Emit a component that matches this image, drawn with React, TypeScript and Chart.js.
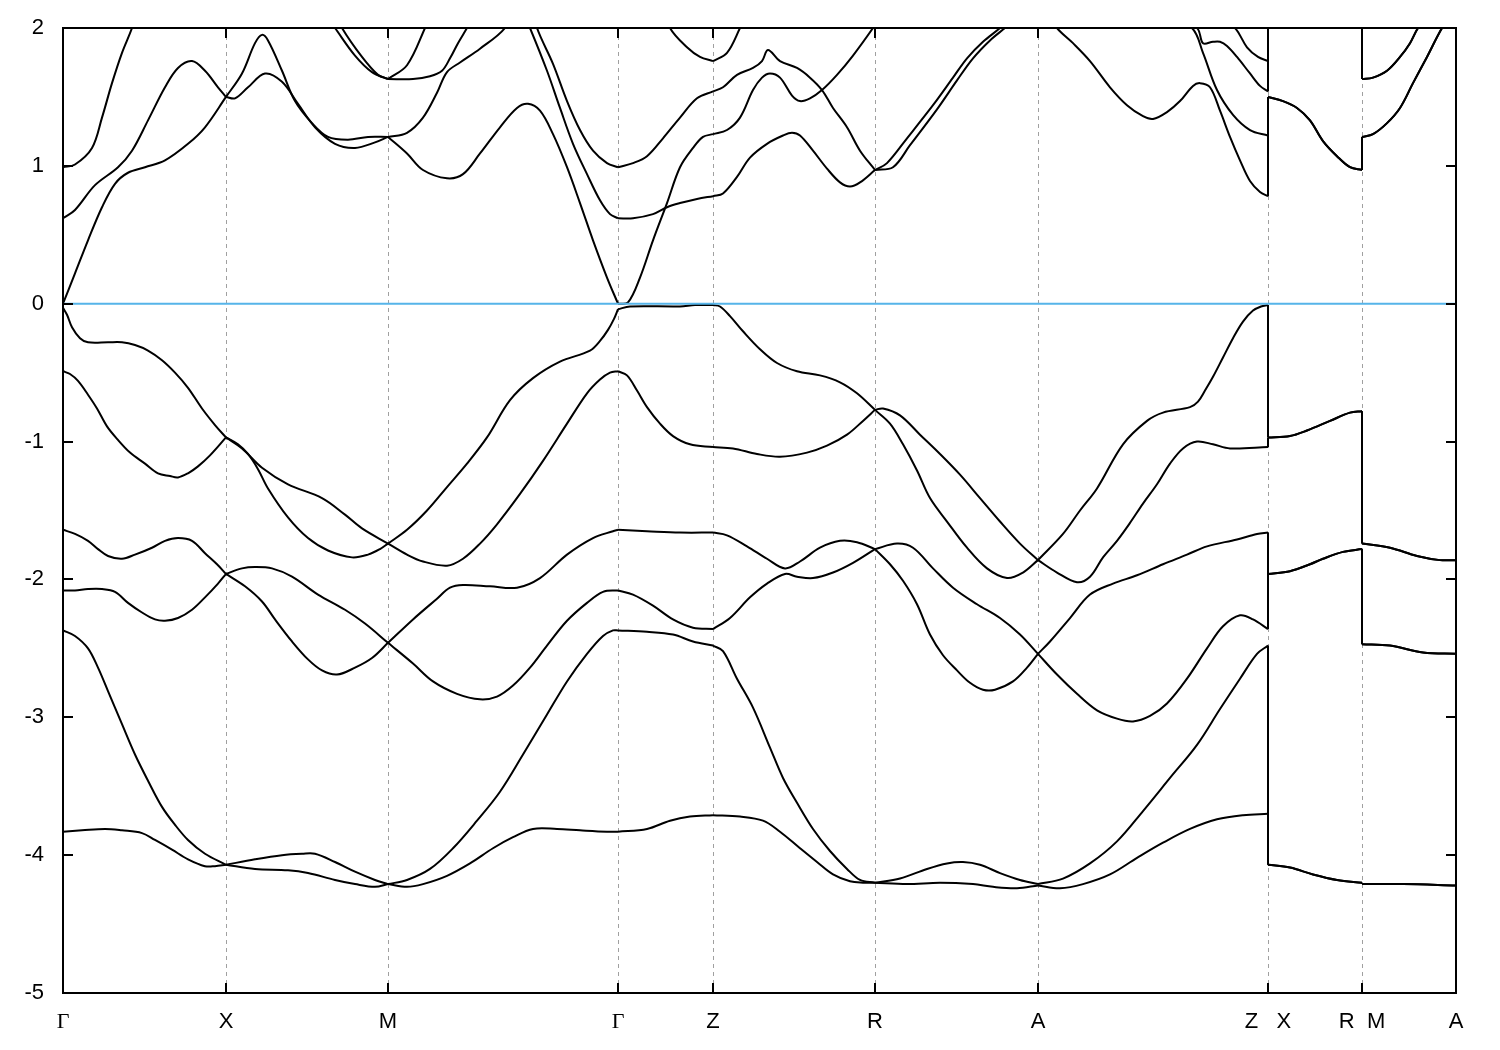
import React, { useEffect, useRef } from "react";
import { Chart, registerables } from "chart.js";

Chart.register(...registerables);

type Pt = [number, number];

// k-path positions (arb. units) of the high-symmetry points and their labels
const kTicks = [0, 163, 325, 555, 650, 812, 975, 1205, 1299, 1393];
const kLabels = ["Γ", "X", "M", "Γ", "Z", "R", "A", "Z   X", "R  M", "A"];
const energyMin = -5;
const energyMax = 2;
const fermiEnergy = 0;

// valence bands [k, E (eV)]
const bandV1: Pt[] = [
  [0, -0.03], [4, -0.08], [9, -0.17], [17, -0.25], [25, -0.28], [45, -0.28], [59, -0.28], [72, -0.3], [85, -0.34], [99, -0.41], [112, -0.5], [125, -0.61], [139, -0.76], [152, -0.88], [163, -0.97],
  [179, -1.05], [199, -1.19], [225, -1.31], [259, -1.41], [282, -1.53], [299, -1.63], [325, -1.74],
  [344, -1.64], [364, -1.5], [384, -1.33], [404, -1.16], [424, -0.97], [447, -0.7], [470, -0.54], [497, -0.42], [527, -0.34], [537, -0.27], [545, -0.19], [551, -0.11], [555, -0.04],
  [567, -0.02], [617, -0.02], [632, -0.01], [650, -0.01],
  [657, -0.02], [667, -0.09], [680, -0.2], [697, -0.33], [714, -0.43], [734, -0.49], [757, -0.52], [777, -0.57], [794, -0.65], [812, -0.77],
  [820, -0.76], [837, -0.81], [857, -0.95], [877, -1.09], [897, -1.24], [917, -1.41], [937, -1.58], [957, -1.74], [975, -1.86],
  [1000, -1.67], [1017, -1.5], [1034, -1.34], [1060, -1.02], [1084, -0.85], [1100, -0.79], [1127, -0.75], [1135, -0.71], [1142, -0.63], [1150, -0.53], [1160, -0.39], [1170, -0.25], [1180, -0.13], [1190, -0.05], [1198, -0.02], [1205, -0.01],
  [1205, -0.97], [1227, -0.96], [1244, -0.92], [1267, -0.85], [1287, -0.79], [1299, -0.78],
  [1299, -1.74], [1327, -1.77], [1354, -1.83], [1377, -1.86], [1393, -1.86],
];

const bandV2: Pt[] = [
  [0, -0.49], [7, -0.51], [15, -0.56], [25, -0.66], [34, -0.76], [44, -0.89], [54, -0.98], [67, -1.08], [82, -1.16], [95, -1.23], [107, -1.25], [115, -1.26], [125, -1.23], [135, -1.18], [147, -1.1], [163, -0.97],
  [175, -1.02], [185, -1.09], [195, -1.2], [205, -1.34], [225, -1.55], [245, -1.7], [265, -1.79], [289, -1.84], [305, -1.82], [317, -1.78], [325, -1.74],
  [344, -1.82], [360, -1.87], [384, -1.9], [400, -1.85], [417, -1.74], [434, -1.6], [457, -1.38], [480, -1.14], [504, -0.87], [524, -0.65], [537, -0.55], [547, -0.5], [555, -0.49],
  [564, -0.52], [574, -0.63], [584, -0.75], [597, -0.87], [610, -0.96], [627, -1.02], [650, -1.04],
  [670, -1.05], [694, -1.09], [717, -1.11], [744, -1.08], [764, -1.03], [784, -0.95], [800, -0.85], [812, -0.77],
  [827, -0.87], [840, -1.02], [854, -1.21], [867, -1.41], [884, -1.58], [904, -1.77], [924, -1.92], [944, -1.99], [960, -1.95], [975, -1.86],
  [994, -1.95], [1014, -2.02], [1027, -1.98], [1040, -1.84], [1054, -1.72], [1067, -1.59], [1080, -1.45], [1094, -1.31], [1107, -1.16], [1120, -1.05], [1134, -1.0], [1150, -1.02], [1167, -1.05], [1205, -1.04],
  [1205, -0.97], [1227, -0.96], [1244, -0.92], [1267, -0.85], [1287, -0.79], [1299, -0.78],
  [1299, -1.74], [1327, -1.77], [1354, -1.83], [1377, -1.86], [1393, -1.86],
];

const bandV3: Pt[] = [
  [0, -1.64], [12, -1.67], [25, -1.72], [35, -1.78], [45, -1.83], [59, -1.85], [72, -1.82], [89, -1.77], [102, -1.72], [115, -1.7], [129, -1.72], [142, -1.81], [154, -1.89], [163, -1.96],
  [179, -1.92], [192, -1.91], [209, -1.92], [229, -1.98], [255, -2.11], [282, -2.22], [302, -2.32], [325, -2.46],
  [350, -2.29], [374, -2.14], [387, -2.06], [400, -2.04], [427, -2.05], [454, -2.06], [477, -1.99], [504, -1.82], [530, -1.7], [550, -1.65], [555, -1.64],
  [584, -1.65], [617, -1.66], [650, -1.66],
  [664, -1.68], [684, -1.76], [704, -1.85], [722, -1.92], [737, -1.87], [757, -1.77], [777, -1.72], [794, -1.73], [812, -1.78],
  [834, -1.74], [850, -1.77], [870, -1.92], [890, -2.06], [914, -2.18], [937, -2.28], [957, -2.4], [975, -2.54],
  [987, -2.45], [1007, -2.28], [1027, -2.11], [1050, -2.03], [1074, -1.97], [1100, -1.89], [1124, -1.82], [1144, -1.76], [1174, -1.71], [1194, -1.67], [1205, -1.66],
  [1205, -1.96], [1227, -1.94], [1247, -1.89], [1260, -1.85], [1280, -1.8], [1299, -1.78],
  [1299, -2.47], [1327, -2.48], [1360, -2.53], [1393, -2.54],
];

const bandV4: Pt[] = [
  [0, -2.08], [12, -2.08], [25, -2.07], [39, -2.07], [52, -2.09], [65, -2.17], [79, -2.24], [92, -2.29], [102, -2.3], [115, -2.28], [129, -2.22], [142, -2.13], [155, -2.03], [163, -1.96],
  [182, -2.05], [199, -2.16], [212, -2.29], [229, -2.45], [245, -2.58], [259, -2.66], [274, -2.69], [292, -2.64], [309, -2.57], [325, -2.46],
  [350, -2.61], [370, -2.74], [394, -2.83], [417, -2.87], [434, -2.85], [450, -2.77], [467, -2.64], [484, -2.48], [504, -2.3], [524, -2.17], [540, -2.09], [555, -2.08],
  [570, -2.11], [590, -2.19], [610, -2.29], [630, -2.35], [650, -2.36],
  [667, -2.28], [687, -2.13], [704, -2.03], [722, -1.96], [734, -1.98], [750, -1.99], [770, -1.95], [790, -1.88], [812, -1.78],
  [827, -1.89], [840, -2.01], [854, -2.18], [867, -2.4], [880, -2.55], [894, -2.66], [907, -2.75], [920, -2.8], [932, -2.8], [950, -2.74], [964, -2.64], [975, -2.54],
  [994, -2.69], [1014, -2.83], [1034, -2.95], [1054, -3.01], [1070, -3.03], [1087, -2.99], [1104, -2.9], [1124, -2.72], [1144, -2.5], [1160, -2.34], [1177, -2.26], [1190, -2.29], [1205, -2.36],
  [1205, -1.96], [1227, -1.94], [1247, -1.89], [1260, -1.85], [1280, -1.8], [1299, -1.78],
  [1299, -2.47], [1327, -2.48], [1360, -2.53], [1393, -2.54],
];

const bandV5: Pt[] = [
  [0, -2.37], [12, -2.41], [25, -2.5], [35, -2.64], [45, -2.81], [59, -3.05], [72, -3.27], [85, -3.46], [99, -3.65], [112, -3.78], [125, -3.89], [142, -3.99], [163, -4.07],
  [192, -4.03], [219, -4.0], [239, -3.99], [252, -3.99], [272, -4.05], [292, -4.12], [312, -4.18], [325, -4.21],
  [344, -4.18], [367, -4.1], [390, -3.95], [414, -3.75], [437, -3.54], [460, -3.27], [484, -2.98], [504, -2.74], [524, -2.54], [540, -2.41], [550, -2.37], [555, -2.37],
  [584, -2.38], [610, -2.4], [630, -2.45], [650, -2.48],
  [660, -2.52], [674, -2.72], [690, -2.93], [707, -3.22], [720, -3.44], [734, -3.62], [750, -3.81], [767, -3.97], [784, -4.1], [797, -4.18], [812, -4.2],
  [837, -4.17], [864, -4.1], [884, -4.06], [900, -4.05], [917, -4.07], [937, -4.13], [957, -4.18], [975, -4.21],
  [1000, -4.17], [1027, -4.06], [1054, -3.9], [1080, -3.68], [1107, -3.44], [1134, -3.2], [1157, -2.94], [1177, -2.72], [1194, -2.54], [1205, -2.48],
  [1205, -4.07], [1227, -4.09], [1250, -4.14], [1274, -4.18], [1299, -4.2],
  [1299, -4.21], [1340, -4.21], [1393, -4.22],
];

const bandV6: Pt[] = [
  [0, -3.83], [19, -3.82], [42, -3.81], [59, -3.82], [79, -3.84], [92, -3.89], [109, -3.96], [125, -4.03], [142, -4.08], [152, -4.08], [163, -4.07],
  [192, -4.1], [225, -4.11], [245, -4.13], [272, -4.18], [292, -4.21], [312, -4.23], [325, -4.21],
  [344, -4.23], [360, -4.21], [384, -4.15], [407, -4.06], [430, -3.95], [450, -3.87], [470, -3.81], [494, -3.81], [517, -3.82], [544, -3.83], [555, -3.83],
  [584, -3.81], [607, -3.75], [627, -3.72], [650, -3.71],
  [677, -3.72], [700, -3.75], [717, -3.83], [737, -3.95], [754, -4.05], [770, -4.14], [787, -4.19], [800, -4.2], [812, -4.2],
  [844, -4.21], [877, -4.2], [910, -4.21], [930, -4.23], [954, -4.24], [975, -4.22],
  [997, -4.24], [1020, -4.21], [1047, -4.14], [1074, -4.02], [1100, -3.91], [1127, -3.81], [1154, -3.74], [1180, -3.71], [1205, -3.7],
  [1205, -4.07], [1227, -4.09], [1250, -4.14], [1274, -4.18], [1299, -4.2],
  [1299, -4.21], [1340, -4.21], [1393, -4.22],
];

// conduction bands [k, E (eV)] (values above 2 eV lie outside the window)
const bandC1: Pt[] = [
  [0, 0.0], [12, 0.22], [25, 0.46], [39, 0.7], [52, 0.87], [65, 0.95], [82, 0.99], [102, 1.04], [125, 1.16], [142, 1.28], [163, 1.5],
  [179, 1.67], [192, 1.89], [199, 1.95], [205, 1.91], [219, 1.69], [232, 1.47], [249, 1.31], [265, 1.21], [285, 1.19], [305, 1.21], [325, 1.21],
  [344, 1.09], [360, 0.97], [384, 0.91], [400, 0.94], [417, 1.09], [437, 1.28], [454, 1.42], [465, 1.45], [477, 1.4], [490, 1.23], [504, 0.99], [517, 0.73], [530, 0.46], [544, 0.19], [555, 0.0],
  [565, 0.01], [577, 0.19], [590, 0.46], [604, 0.73], [617, 0.99], [630, 1.13], [640, 1.21], [650, 1.23],
  [664, 1.26], [677, 1.35], [690, 1.55], [699, 1.64], [707, 1.67], [717, 1.64], [729, 1.51], [737, 1.47], [747, 1.49], [759, 1.55], [774, 1.66], [790, 1.8], [810, 2.0], [812, 2.03],
  [890, 2.3], [975, 2.2],
  [994, 2.0], [1010, 1.89], [1027, 1.76], [1047, 1.57], [1064, 1.44], [1080, 1.36], [1090, 1.34], [1104, 1.39], [1117, 1.47], [1130, 1.58], [1137, 1.6], [1147, 1.57], [1157, 1.4], [1167, 1.21], [1177, 1.04], [1187, 0.89], [1197, 0.81], [1205, 0.78],
  [1205, 1.5], [1220, 1.47], [1234, 1.42], [1247, 1.33], [1260, 1.18], [1274, 1.07], [1287, 0.99], [1299, 0.97],
  [1299, 1.21], [1310, 1.23], [1324, 1.31], [1337, 1.42], [1350, 1.6], [1364, 1.79], [1379, 2.0], [1393, 2.15],
];

const bandC2: Pt[] = [
  [0, 0.62], [12, 0.68], [32, 0.86], [55, 0.99], [69, 1.11], [85, 1.33], [102, 1.57], [115, 1.71], [129, 1.76], [142, 1.69], [155, 1.57], [163, 1.5],
  [172, 1.49], [185, 1.57], [202, 1.67], [219, 1.61], [235, 1.45], [252, 1.28], [272, 1.16], [292, 1.13], [312, 1.17], [325, 1.21],
  [344, 1.24], [360, 1.35], [374, 1.53], [384, 1.68], [397, 1.75], [417, 1.85], [442, 2.0], [455, 2.2], [467, 2.0], [484, 1.69], [497, 1.42], [510, 1.16], [524, 0.94], [537, 0.75], [547, 0.65], [555, 0.62],
  [570, 0.62], [590, 0.65], [604, 0.7], [617, 0.73], [634, 0.76], [650, 0.78],
  [660, 0.8], [674, 0.92], [687, 1.06], [704, 1.16], [720, 1.22], [729, 1.24], [737, 1.22], [750, 1.11], [764, 0.98], [777, 0.88], [787, 0.85], [797, 0.88], [812, 0.97],
  [824, 1.02], [844, 1.2], [870, 1.44], [890, 1.64], [904, 1.78], [920, 1.9], [937, 2.0], [975, 2.25],
  [1060, 2.4], [1129, 2.0], [1140, 1.82], [1154, 1.55], [1170, 1.37], [1187, 1.26], [1205, 1.22],
  [1205, 1.5], [1220, 1.47], [1234, 1.42], [1247, 1.33], [1260, 1.18], [1274, 1.07], [1287, 0.99], [1299, 0.97],
  [1299, 1.21], [1310, 1.23], [1324, 1.31], [1337, 1.42], [1350, 1.6], [1364, 1.79], [1379, 2.0], [1393, 2.15],
];

const bandC3: Pt[] = [
  [0, 0.99], [12, 1.01], [29, 1.13], [39, 1.35], [49, 1.6], [59, 1.82], [69, 2.0], [80, 2.25], [120, 2.5], [163, 2.4],
  [230, 2.35], [257, 2.15], [272, 2.0], [292, 1.8], [309, 1.68], [325, 1.63],
  [350, 1.63], [367, 1.65], [379, 1.69], [387, 1.78], [395, 1.89], [404, 2.0], [420, 2.2], [460, 2.35], [474, 2.0], [490, 1.74], [504, 1.47], [517, 1.26], [530, 1.11], [544, 1.02], [555, 0.99],
  [570, 1.02], [584, 1.07], [600, 1.2], [617, 1.35], [634, 1.49], [650, 1.54],
  [660, 1.57], [674, 1.66], [690, 1.71], [699, 1.76], [705, 1.84], [717, 1.76], [734, 1.71], [747, 1.64], [759, 1.55], [770, 1.42], [784, 1.28], [797, 1.11], [812, 0.97],
  [830, 0.99], [847, 1.15], [874, 1.41], [894, 1.62], [910, 1.78], [927, 1.91], [942, 2.0], [975, 2.2],
  [1060, 2.4], [1134, 2.0], [1140, 1.89], [1150, 1.9], [1157, 1.9], [1164, 1.87], [1174, 1.79], [1187, 1.67], [1197, 1.58], [1205, 1.54],
  [1205, 2.4], [1250, 2.4], [1299, 2.4],
  [1299, 1.63], [1310, 1.64], [1324, 1.69], [1337, 1.79], [1347, 1.89], [1355, 2.0], [1393, 2.4],
];

const bandC4: Pt[] = [
  [0, 2.4], [80, 2.6], [163, 2.5],
  [240, 2.4], [265, 2.2], [279, 2.0], [299, 1.79], [315, 1.66], [325, 1.63],
  [344, 1.73], [362, 2.0], [380, 2.3], [470, 2.6], [555, 2.5],
  [590, 2.3], [607, 2.0], [624, 1.86], [637, 1.79], [650, 1.76],
  [664, 1.82], [677, 2.0], [690, 2.2], [750, 2.4], [812, 2.4],
  [900, 2.5], [975, 2.4],
  [1100, 2.5], [1172, 2.0], [1184, 1.86], [1195, 1.79], [1205, 1.76],
  [1205, 2.4], [1250, 2.4], [1299, 2.4],
  [1299, 1.63], [1310, 1.64], [1324, 1.69], [1337, 1.79], [1347, 1.89], [1355, 2.0], [1393, 2.4],
];

const allBands: Pt[][] = [bandV1, bandV2, bandV3, bandV4, bandV5, bandV6, bandC1, bandC2, bandC3, bandC4];

type Piece = { pts: Pt[]; jump: boolean };

// split a band into path segments at the high-symmetry points;
// two consecutive points at the same k become a vertical jump piece
function splitBand(band: Pt[]): Piece[] {
  const out: Piece[] = [];
  let cur: Pt[] = [band[0]];
  for (let i = 1; i < band.length; i++) {
    const p = band[i];
    const prev = band[i - 1];
    if (p[0] === prev[0]) {
      if (cur.length > 1) out.push({ pts: cur, jump: false });
      out.push({ pts: [prev, p], jump: true });
      cur = [p];
      continue;
    }
    cur.push(p);
    if (kTicks.includes(p[0]) && i < band.length - 1) {
      out.push({ pts: cur, jump: false });
      cur = [p];
    }
  }
  if (cur.length > 1) out.push({ pts: cur, jump: false });
  return out;
}

const framePlugin = {
  id: "bandFrame",
  beforeDatasetsDraw(chart: any) {
    const { ctx, chartArea: a, scales } = chart;
    const x = scales.x;
    ctx.save();
    ctx.strokeStyle = "#a0a0a0";
    ctx.lineWidth = 1;
    ctx.setLineDash([4, 4]);
    kTicks.slice(1, -1).forEach((k) => {
      const px = Math.round(x.getPixelForValue(k)) + 0.5;
      ctx.beginPath();
      ctx.moveTo(px, a.top);
      ctx.lineTo(px, a.bottom);
      ctx.stroke();
    });
    ctx.restore();
  },
  afterDatasetsDraw(chart: any) {
    const { ctx, chartArea: a, scales } = chart;
    const x = scales.x;
    const y = scales.y;
    ctx.save();
    ctx.strokeStyle = "#000";
    ctx.lineWidth = 2;
    ctx.setLineDash([]);
    const tl = 10;
    ctx.beginPath();
    for (let e = energyMin + 1; e < energyMax; e++) {
      const py = Math.round(y.getPixelForValue(e));
      ctx.moveTo(a.left, py);
      ctx.lineTo(a.left + tl, py);
      ctx.moveTo(a.right, py);
      ctx.lineTo(a.right - tl, py);
    }
    kTicks.slice(1, -1).forEach((k) => {
      const px = Math.round(x.getPixelForValue(k));
      ctx.moveTo(px, a.bottom);
      ctx.lineTo(px, a.bottom - tl);
      ctx.moveTo(px, a.top);
      ctx.lineTo(px, a.top + tl);
    });
    ctx.stroke();
    ctx.strokeRect(a.left, a.top, a.right - a.left, a.bottom - a.top);
    ctx.restore();
  },
};

export default function App() {
  const ref = useRef<HTMLCanvasElement | null>(null);

  useEffect(() => {
    document.body.style.margin = "0";
    const datasets: any[] = [];
    allBands.forEach((band) => {
      splitBand(band).forEach((piece) => {
        datasets.push({
          data: piece.pts.map(([k, e]) => ({ x: k, y: e })),
          borderColor: "#000000",
          borderWidth: 2,
          pointRadius: 0,
          fill: false,
          tension: piece.jump ? 0 : 0.35,
          cubicInterpolationMode: "default",
          order: 1,
        });
      });
    });
    datasets.push({
      data: [
        { x: kTicks[0], y: fermiEnergy },
        { x: kTicks[kTicks.length - 1], y: fermiEnergy },
      ],
      borderColor: "#56b4e9",
      borderWidth: 2,
      pointRadius: 0,
      fill: false,
      tension: 0,
      order: -1,
    });

    const chart = new Chart(ref.current as HTMLCanvasElement, {
      type: "line",
      data: { datasets },
      options: {
        responsive: false,
        animation: false,
        devicePixelRatio: 1,
        layout: { padding: { top: 28, right: 44, left: 0, bottom: 0 } },
        elements: { line: { capBezierPoints: false } },
        plugins: { legend: { display: false }, tooltip: { enabled: false } },
        events: [],
        scales: {
          x: {
            type: "linear",
            min: kTicks[0],
            max: kTicks[kTicks.length - 1],
            grid: { display: false },
            border: { display: false },
            afterBuildTicks: (scale: any) => {
              scale.ticks = kTicks.map((v) => ({ value: v }));
            },
            afterFit: (scale: any) => {
              scale.height = 57;
            },
            ticks: {
              autoSkip: false,
              maxRotation: 0,
              minRotation: 0,
              padding: 8,
              color: "#000",
              font: (ctx: any) => ({
                family: kLabels[ctx.index] === "Γ" ? "'Liberation Serif', serif" : "'Liberation Sans', Arial, sans-serif",
                size: 22,
              }),
              callback: (_v: any, i: number) => kLabels[i],
            },
          },
          y: {
            type: "linear",
            min: energyMin,
            max: energyMax,
            grid: { display: false },
            border: { display: false },
            afterFit: (scale: any) => {
              scale.width = 63;
            },
            ticks: {
              stepSize: 1,
              padding: 11,
              color: "#000",
              font: { family: "'Liberation Sans', Arial, sans-serif", size: 22 },
              callback: (v: any) => String(v),
            },
          },
        },
      },
      plugins: [framePlugin],
    } as any);
    return () => chart.destroy();
  }, []);

  return (
    <div style={{ width: 1500, height: 1050, background: "#ffffff" }}>
      <canvas ref={ref} width={1500} height={1050} style={{ display: "block" }} />
    </div>
  );
}
